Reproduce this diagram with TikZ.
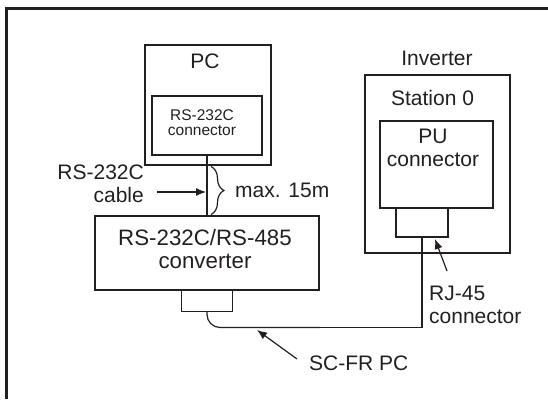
\documentclass[tikz,border=0pt]{standalone}
\usepackage{fontspec}
\setmainfont{Liberation Sans}
\usetikzlibrary{arrows.meta,decorations.pathreplacing}
\definecolor{ink}{HTML}{231F20}
\begin{document}
\begin{tikzpicture}[x=1pt,y=-1pt,
  thickbox/.style={draw=ink,line width=2.2pt,inner sep=0pt,outer sep=0pt},
  thinbox/.style={draw=ink,line width=1.2pt,inner sep=0pt,outer sep=0pt},
  lbl/.style={inner sep=0pt,font=\fontsize{21}{23}\selectfont,text=ink},
  small/.style={inner sep=0pt,font=\fontsize{15.5}{16}\selectfont,text=ink},
  wire/.style={draw=ink,line width=1.2pt},
  pointer/.style={draw=ink,line width=1.2pt,-{Latex[length=10pt,width=8pt]}}]
\useasboundingbox (0,0) rectangle (548,399);
% frame (left and top)
\draw[ink,line width=2.4pt] (6.5,399) -- (6.5,8.5) -- (548,8.5);

% PC
\node[thickbox,minimum width=126pt,minimum height=120pt] (pc) at (208,105) {};
\node[lbl] (pclabel) at (205,61) {PC};
\node[thinbox,minimum width=110pt,minimum height=59pt] (pcconn) at (207,125.5) {};
\node[small,align=center] (pcconntext) at (202,122.5) {RS-232C\\[-1pt]connector};

% converter
\node[thinbox,minimum width=224pt,minimum height=74pt] (conv) at (207,253) {};
\node[lbl,font=\fontsize{22.3}{22.5}\selectfont,align=center] (convtext) at (205,249) {RS-232C/RS-485\\converter};
\node[thinbox,minimum width=51pt,minimum height=21pt] (convconn) at (207,301) {};

% cable PC - converter
\draw[wire] (pcconn.south) -- (conv.north);
\draw[ink,line width=1.2pt,decorate,decoration={brace,amplitude=13pt,aspect=0.5}] (211,166.5) -- (211,214.5);
\node[lbl,anchor=west] (maxlen) at (235,190) {max. 15m};
\node[lbl,align=right,anchor=east] (cablelabel) at (144,183.5) {RS-232C\\cable};
\coordinate (cablestart) at (157,192);
\coordinate (cablehit) at (206,192);
\draw[pointer] (cablestart) -- (cablehit);

% inverter
\node[thickbox,minimum width=145pt,minimum height=178pt] (inv) at (437.5,164) {};
\node[lbl] (invlabel) at (437,58) {Inverter};
\node[lbl] (station) at (432.5,98) {Station 0};
\node[thinbox,minimum width=113pt,minimum height=87pt] (pu) at (436.5,164.5) {};
\node[lbl,align=center] (putext) at (433,147.5) {PU\\connector};
\node[thinbox,minimum width=52pt,minimum height=29pt] (rj) at (422,222.5) {};

% SC-FR PC cable
\coordinate (bend) at (320,327.5);
\draw[wire,rounded corners=13pt] (convconn.south) |- (bend);
\draw[wire] (bend) -| (rj.south);

% RJ-45 label
\node[lbl,align=left,anchor=west] (rjlabel) at (429,305) {RJ-45\\connector};
\coordinate (rjstart) at (447,271);
\coordinate (rjtip) at (435,239);
\draw[pointer] (rjstart) -- (rjtip);

% SC-FR PC label
\node[lbl,anchor=west] (sclabel) at (309,363) {SC-FR PC};
\coordinate (scstart) at (297,359);
\coordinate (sctip) at (257,330);
\draw[pointer] (scstart) -- (sctip);
\end{tikzpicture}
\end{document}
